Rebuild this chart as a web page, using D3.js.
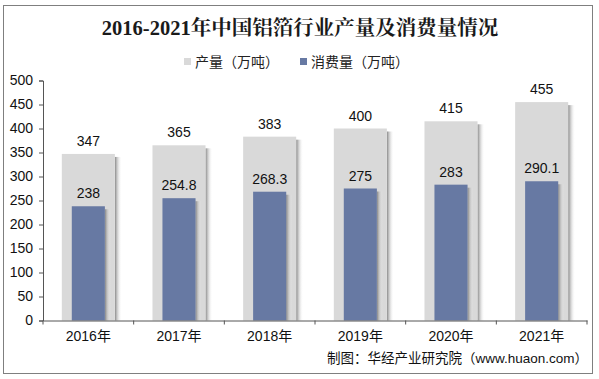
<!DOCTYPE html>
<html><head><meta charset="utf-8">
<script src="https://cdn.jsdelivr.net/npm/d3@7"></script>
<style>body{margin:0;background:#fff}svg{display:block}</style>
</head><body>
<svg id="c" width="599" height="379"></svg>
<script>
const years = ["2016年","2017年","2018年","2019年","2020年","2021年"];
const production = [347,365,383,400,415,455];
const consumption = [238,254.8,268.3,275,283,290.1];
const consumptionLabels = ["238","254.8","268.3","275","283","290.1"];
const yTicks = [0,50,100,150,200,250,300,350,400,450,500];
const seriesNames = ["产量（万吨）","消费量（万吨）"];
const colors = ["#d9d9d9","#6779a3"];
const title = "2016-2021年中国铝箔行业产量及消费量情况";
const credit = "制图：华经产业研究院（www.huaon.com）";

const svg = d3.select("#c");
const sans = "Liberation Sans, Arial, 'Noto Sans CJK SC', sans-serif";
const defs = svg.append("defs");
const g1 = defs.append("linearGradient").attr("id","sh").attr("x1","0").attr("x2","1");
g1.append("stop").attr("offset","0").attr("stop-color","#7a7a7a").attr("stop-opacity",0.9);
g1.append("stop").attr("offset","1").attr("stop-color","#ffffff").attr("stop-opacity",0);

svg.append("rect").attr("x",3.5).attr("y",5.5).attr("width",589).attr("height",368)
  .attr("fill","#fff").attr("stroke","#7f7f7f").attr("stroke-width",1);

svg.append("text").attr("x",300).attr("y",35).attr("text-anchor","middle")
  .attr("font-family","'Liberation Serif','Noto Serif CJK SC','Noto Sans CJK SC',serif")
  .attr("font-weight","bold").attr("font-size",20.5).attr("fill","#1a1a1a").text(title);

// legend
const leg = [{x:184,t:seriesNames[0],c:colors[0]},{x:300,t:seriesNames[1],c:colors[1]}];
leg.forEach(l=>{
  svg.append("rect").attr("x",l.x).attr("y",58).attr("width",7).attr("height",7).attr("fill",l.c);
  svg.append("text").attr("x",l.x+11).attr("y",67).attr("font-family",sans)
    .attr("font-size",14).attr("fill","#222").text(l.t);
});

const x = d3.scaleBand().domain(years).range([43,587]).paddingInner(0).paddingOuter(0);
const y = d3.scaleLinear().domain([0,500]).range([320.5,80.5]);

const yAxis = svg.append("g").attr("transform","translate(43,0)")
  .call(d3.axisLeft(y).tickValues(yTicks).tickSize(4).tickPadding(6));
yAxis.select(".domain").attr("stroke","#555");
yAxis.selectAll(".tick line").attr("stroke","#555");
yAxis.selectAll("text").attr("font-family",sans).attr("font-size",14).attr("fill","#111");

const bw = x.bandwidth();
const grayW = bw*0.585, blueW = bw*0.365;
const bars = svg.append("g");
years.forEach((yr,i)=>{
  const cx = x(yr)+bw/2;
  bars.append("rect").attr("x",cx+grayW/2).attr("y",y(production[i])+3)
    .attr("width",7).attr("height",y(0)-y(production[i])-3).attr("fill","url(#sh)");
  bars.append("rect").attr("x",cx-grayW/2).attr("y",y(production[i]))
    .attr("width",grayW).attr("height",y(0)-y(production[i])).attr("fill",colors[0]);
  bars.append("rect").attr("x",cx+blueW/2).attr("y",y(consumption[i])+3)
    .attr("width",6).attr("height",y(0)-y(consumption[i])-3).attr("fill","url(#sh)");
  bars.append("rect").attr("x",cx-blueW/2).attr("y",y(consumption[i]))
    .attr("width",blueW).attr("height",y(0)-y(consumption[i])).attr("fill",colors[1]);
  bars.append("text").attr("x",cx).attr("y",y(production[i])-8).attr("text-anchor","middle")
    .attr("font-family",sans).attr("font-size",14).attr("fill","#111").text(production[i]);
  bars.append("text").attr("x",cx).attr("y",y(consumption[i])-8).attr("text-anchor","middle")
    .attr("font-family",sans).attr("font-size",14).attr("fill","#111").text(consumptionLabels[i]);
});

const xAxis = svg.append("g").attr("transform",`translate(0,${y(0)})`)
  .call(d3.axisBottom(x).tickSize(0).tickPadding(11));
xAxis.select(".domain").attr("stroke","#555");
xAxis.selectAll("text").attr("font-family",sans).attr("font-size",14).attr("fill","#111");
svg.append("g").selectAll("line").data(d3.range(years.length+1)).join("line")
  .attr("x1",i=>43+i*bw).attr("x2",i=>43+i*bw).attr("y1",y(0)).attr("y2",y(0)+4)
  .attr("stroke","#555");

svg.append("text").attr("x",588).attr("y",363).attr("text-anchor","end")
  .attr("font-family",sans).attr("font-size",13.5).attr("fill","#111").text(credit);
</script>
</body></html>
